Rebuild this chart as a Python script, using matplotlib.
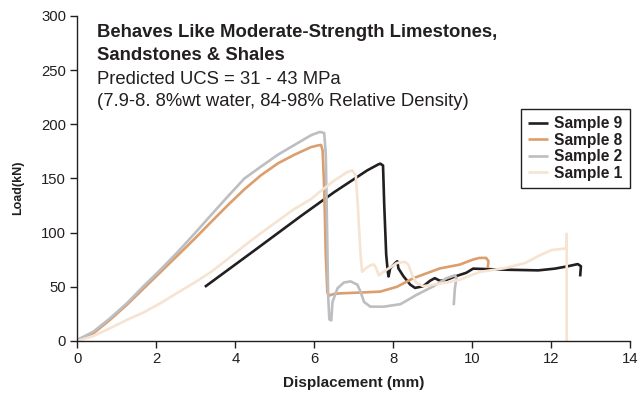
import matplotlib
matplotlib.use("Agg")
import matplotlib.pyplot as plt

plt.rcParams['font.family'] = ['Liberation Sans', 'DejaVu Sans']

# Sample 9 (black)
s9_x = [3.23, 4.5, 5.67, 6.5, 7.34, 7.62, 7.67, 7.74, 7.77, 7.82, 7.86, 7.88, 7.92, 8.05, 8.10, 8.13, 8.26, 8.43,
        8.55, 8.76, 8.93, 9.05, 9.18, 9.35, 9.6, 9.85, 10.02, 10.85, 11.67, 12.09, 12.42, 12.67, 12.75, 12.73]
s9_y = [50, 84, 115.6, 137.3, 157.5, 163, 163.7, 162, 126, 79.8, 64, 59.6, 67, 72, 73.6, 67, 59.6, 52,
        49, 50.6, 55.6, 58, 55.6, 56.5, 60, 63, 66.8, 65.8, 65.2, 66.8, 69, 71, 69, 59.6]

# Sample 8 (orange)
s8_x = [0.0, 0.41, 0.83, 1.26, 1.68, 2.11, 2.53, 2.96, 3.38, 3.8, 4.23, 4.65, 5.08, 5.5, 5.92, 6.09, 6.17,
        6.21, 6.25, 6.29, 6.33, 6.38, 6.5, 6.67, 7.34, 7.67, 8.09, 8.51, 8.85, 9.18, 9.68, 10.02, 10.18,
        10.35, 10.41, 10.39]
s8_y = [1, 7.2, 19.6, 33.6, 48.5, 63.7, 78.6, 94, 109.6, 125, 140, 153, 164, 172, 179, 180.5, 181,
        176, 142, 80, 45, 42, 43.5, 44, 45, 45.6, 50, 58, 62.6, 67, 70.5, 75.2, 76.7,
        76.7, 73.6, 67.4]

# Sample 2 (grey)
s2_x = [0.0, 0.41, 0.83, 1.26, 1.68, 2.11, 2.53, 2.96, 3.38, 3.8, 4.23, 4.65, 5.08, 5.5, 5.92, 6.14, 6.25,
        6.29, 6.32, 6.35, 6.38, 6.43, 6.46, 6.59, 6.75, 6.92, 7.09, 7.17, 7.26, 7.42, 7.76, 8.18, 8.59,
        9.01, 9.35, 9.56, 9.6, 9.56, 9.53]
s2_y = [1, 8.7, 21, 35, 50.7, 66, 81.7, 98.8, 116, 133, 150, 161, 172, 181, 190, 193, 192,
        173, 111, 42.5, 20, 19, 36, 48.8, 54, 55, 52, 45.6, 36, 31.7, 31.7, 34, 42.6,
        50.4, 58, 60.6, 58, 49, 33]

# Sample 1 (light peach)
s1_x = [0.0, 0.41, 0.83, 1.26, 1.68, 2.11, 2.53, 2.96, 3.38, 3.8, 4.23, 4.65, 5.08, 5.5, 5.92, 6.08, 6.5,
        6.84, 6.96, 7.05, 7.1, 7.17, 7.21, 7.3, 7.42, 7.51, 7.57, 7.63, 7.72, 7.84, 7.97, 8.09, 8.3,
        8.38, 8.47, 8.59, 8.76, 9.01, 9.35, 9.68, 10.18, 10.85, 11.34, 11.67, 12.0, 12.38, 12.39, 12.39]
s1_y = [0, 4.7, 11.8, 19.6, 26.4, 35, 44.4, 53.7, 63.6, 75.4, 88, 99.6, 111, 122, 131, 136, 148,
        156, 157.5, 153, 126.4, 80, 64, 67, 69.9, 70.5, 67, 60.6, 63, 66, 69, 72, 73,
        70.5, 61.5, 53.5, 50.6, 52, 54, 56.5, 63.7, 67.4, 72, 78.3, 83.9, 85.5, 99, 0]

series = [
    ("Sample 9", s9_x, s9_y, "#231f20"),
    ("Sample 8", s8_x, s8_y, "#dc9e6c"),
    ("Sample 2", s2_x, s2_y, "#bdbec2"),
    ("Sample 1", s1_x, s1_y, "#f6e3d2"),
]

x_ticks = [0, 2, 4, 6, 8, 10, 12, 14]
y_ticks = [0, 50, 100, 150, 200, 250, 300]

W, H = 639, 396
fig = plt.figure(figsize=(W / 100, H / 100), dpi=100)
ax = fig.add_axes([77.3 / W, 1 - 341 / H, 553 / W, 325 / H])

for name, xs, ys, col in series:
    ax.plot(xs, ys, color=col, lw=1.9, label=name, solid_joinstyle='round', solid_capstyle='butt')

ax.set_xlim(0, 14)
ax.set_ylim(0, 300)
ax.set_xticks(x_ticks)
ax.set_yticks(y_ticks)
ax.tick_params(direction='out', length=5, width=1, labelsize=10.7, colors='#231f20', pad=3)
for s in ['top', 'right']:
    ax.spines[s].set_visible(False)
for s in ['left', 'bottom']:
    ax.spines[s].set_color('#231f20')
    ax.spines[s].set_linewidth(1)

ax.set_xlabel("Displacement (mm)", fontsize=11, fontweight='bold', color='#231f20')
ax.xaxis.set_label_coords(0.5 * (77.3 + 630) / W, 1 - 383 / H, transform=fig.transFigure)
ax.xaxis.label.set_va('center')
ax.set_ylabel("Load(kN)", fontsize=9, fontweight='bold', color='#231f20')
ax.yaxis.set_label_coords(18 / W, 1 - 188 / H, transform=fig.transFigure)
ax.yaxis.label.set_va('center')

tx = 97 / W
def fy(p):
    return 1 - p / H

fs_title = 13.3
fig.text(tx, fy(37), "Behaves Like Moderate-Strength Limestones,", fontsize=fs_title, fontweight='bold',
         color='#231f20', va='baseline')
fig.text(tx, fy(59.5), "Sandstones & Shales", fontsize=fs_title, fontweight='bold', color='#231f20', va='baseline')
fig.text(tx, fy(83.5), "Predicted UCS = 31 - 43 MPa", fontsize=fs_title, color='#231f20', va='baseline')
fig.text(tx, fy(106.5), "(7.9-8. 8%wt water, 84-98% Relative Density)", fontsize=fs_title, color='#231f20',
         va='baseline')

leg = ax.legend(loc='upper left', bbox_to_anchor=(521 / W, fy(109)), bbox_transform=fig.transFigure,
                frameon=True, fancybox=False, edgecolor='#231f20', framealpha=1,
                prop={'weight': 'bold', 'size': 11.2}, handlelength=1.3, handletextpad=0.4,
                labelspacing=0.1, borderpad=0.45, borderaxespad=0)
leg.get_frame().set_linewidth(1)
for t in leg.get_texts():
    t.set_color('#231f20')

fig.savefig("out.png", dpi=100)
